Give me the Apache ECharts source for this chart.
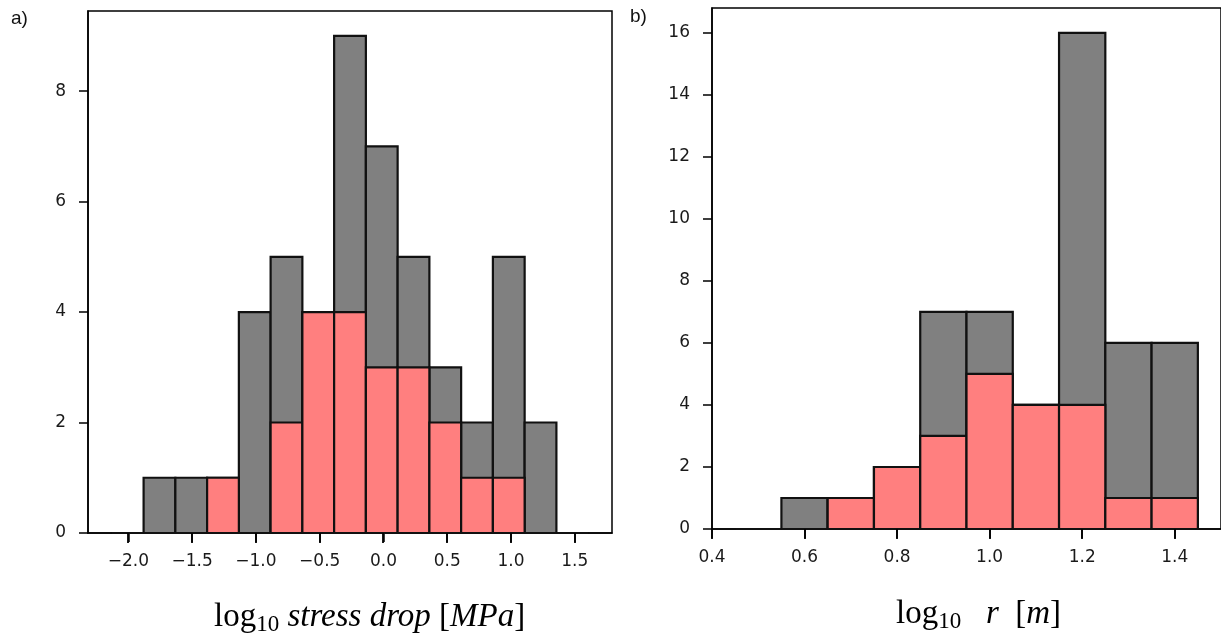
<!DOCTYPE html>
<html>
<head>
<meta charset="utf-8">
<script src="https://cdn.jsdelivr.net/npm/echarts@6/dist/echarts.min.js"></script>
<style>
  html, body { margin: 0; padding: 0; background: #fff; }
  #chart { width: 1221px; height: 640px; }
</style>
</head>
<body>
<div id="chart"></div>
<script>
// a) log10 stress drop histogram: all events (grey) and subset (pink) overlaid
const edgesA = [-2.130, -1.881, -1.632, -1.383, -1.134, -0.885, -0.636, -0.387,
                -0.138, 0.111, 0.360, 0.609, 0.858, 1.107, 1.356, 1.605];
const allA = [0, 1, 1, 1, 4, 5, 4, 9, 7, 5, 3, 2, 5, 2, 0];
const subA = [0, 0, 0, 1, 0, 2, 4, 4, 3, 3, 2, 1, 1, 0, 0];
const xTicksA = [-2.0, -1.5, -1.0, -0.5, 0.0, 0.5, 1.0, 1.5];
const yTicksA = [0, 2, 4, 6, 8];

// b) log10 r histogram
const edgesB = [0.45, 0.55, 0.65, 0.75, 0.85, 0.95, 1.05, 1.15, 1.25, 1.35, 1.45];
const allB = [0, 1, 1, 2, 7, 7, 4, 16, 6, 6];
const subB = [0, 0, 1, 2, 3, 5, 4, 4, 1, 1];
const xTicksB = [0.4, 0.6, 0.8, 1.0, 1.2, 1.4];
const yTicksB = [0, 2, 4, 6, 8, 10, 12, 14, 16];

const GREY = '#808080';
const PINK = '#ff7f7f';

const chart = echarts.init(document.getElementById('chart'));

// matplotlib 风格的直方图：每个 bin 画一个带黑边的矩形
function hist(idx, edges, counts, color) {
  return {
    type: 'custom',
    xAxisIndex: idx, yAxisIndex: idx,
    silent: true,
    data: counts.map((c, i) => [edges[i], edges[i + 1], c]),
    encode: { x: [0, 1], y: 2 },
    renderItem: (params, api) => {
      const p0 = api.coord([api.value(0), 0]);
      const p1 = api.coord([api.value(1), api.value(2)]);
      return {
        type: 'rect',
        shape: { x: p0[0], y: p1[1], width: p1[0] - p0[0], height: p0[1] - p1[1] },
        style: { fill: color, stroke: '#111', lineWidth: 2.2 },
      };
    },
  };
}

function axisCommon(ticks, margin) {
  return {
    axisLine: { show: true, onZero: false, lineStyle: { color: '#000', width: 1.5 } },
    axisTick: { show: true, length: 9, lineStyle: { color: '#000', width: 1.5 }, customValues: ticks },
    axisLabel: { fontFamily: 'DejaVu Sans', fontSize: 17, color: '#1a1a1a', margin, customValues: ticks },
    splitLine: { show: false },
  };
}

function xAxis(idx, min, max, ticks) {
  const a = { type: 'value', gridIndex: idx, min, max, ...axisCommon(ticks, 20) };
  a.axisLabel.formatter = v => v.toFixed(1).replace('-', '\u2212');
  return a;
}

function yAxis(idx, max, ticks) {
  return { type: 'value', gridIndex: idx, min: 0, max, ...axisCommon(ticks, 22) };
}

const serif = { fontFamily: 'Liberation Serif', fontSize: 33, color: '#111' };
function axisTitle(x, y, parts) {
  return {
    type: 'text', x, y, silent: true,
    style: {
      text: parts.map(([k, t]) => `{${k}|${t}}`).join(''),
      verticalAlign: 'middle',
      rich: {
        up: { ...serif },
        it: { ...serif, fontStyle: 'italic' },
        sub: { ...serif, fontSize: 23, padding: [16, 0, 0, 0] },
      },
    },
  };
}

const texts = [
  { type: 'text', x: 11, y: 9, silent: true,
    style: { text: 'a)', font: '19px "Liberation Sans"', fill: '#111' } },
  { type: 'text', x: 630, y: 7, silent: true,
    style: { text: 'b)', font: '19px "Liberation Sans"', fill: '#111' } },
  axisTitle(214, 617, [['up', 'log'], ['sub', '10'], ['it', ' stress drop '], ['up', '['], ['it', 'MPa'], ['up', ']']]),
  axisTitle(896, 614, [['up', 'log'], ['sub', '10'], ['it', '   r  '], ['up', '['], ['it', 'm'], ['up', ']']]),
];

chart.setOption({
  animation: false,
  backgroundColor: '#fff',
  grid: [
    { left: 88, top: 11, width: 524, height: 522, show: true, backgroundColor: 'transparent', borderColor: '#000', borderWidth: 1.5 },
    { left: 712, top: 8, width: 514, height: 521, show: true, backgroundColor: 'transparent', borderColor: '#000', borderWidth: 1.5 },
  ],
  xAxis: [xAxis(0, -2.317, 1.792, xTicksA), xAxis(1, 0.4, 1.5, xTicksB)],
  yAxis: [yAxis(0, 9.45, yTicksA), yAxis(1, 16.8, yTicksB)],
  series: [
    hist(0, edgesA, allA, GREY),
    hist(0, edgesA, subA, PINK),
    hist(1, edgesB, allB, GREY),
    hist(1, edgesB, subB, PINK),
  ],
  graphic: texts,
});

// x 轴刻度线：按刻度值经坐标轴换算后，在上层画向下的短线
function tickLines(idx, ticks) {
  const y0 = chart.convertToPixel({ yAxisIndex: idx }, 0);
  return ticks.map(v => {
    const x = Math.round(chart.convertToPixel({ xAxisIndex: idx }, v));
    return {
      type: 'line', silent: true, zlevel: 1, z: 100,
      shape: { x1: x, y1: y0, x2: x, y2: y0 + 10 },
      style: { stroke: '#000', lineWidth: 1.8 },
    };
  });
}

chart.setOption({
  graphic: texts.concat(tickLines(0, xTicksA), tickLines(1, xTicksB)),
});
</script>
</body>
</html>
